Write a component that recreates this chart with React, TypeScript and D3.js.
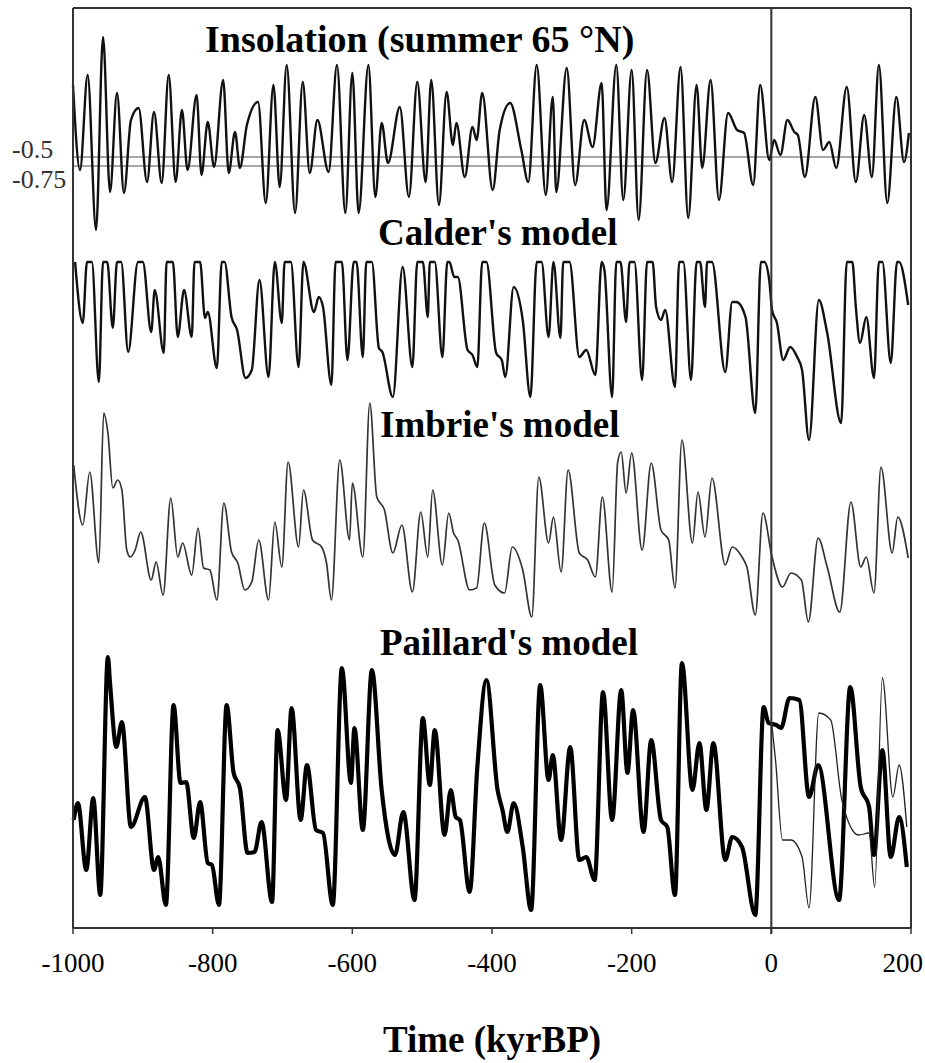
import React from "react";
import * as d3 from "d3";

// x: time in kyr (negative = past, positive = future), y: arbitrary model units
const xTicks = [-1000, -800, -600, -400, -200, 0, 200];

const insolation: [number, number][] = [
  [-1000,150],[-990,65],[-979,160],[-967,5],[-957,198],[-947,43],[-937,142],[-927,42],[-917,115],[-906,127],
  [-894,53],[-884,123],[-873,52],[-863,160],[-853,53],[-844,125],[-836,65],[-823,140],[-816,60],[-807,113],
  [-798,68],[-785,155],[-777,62],[-768,103],[-761,67],[-751,110],[-735,133],[-724,32],[-713,150],[-704,48],
  [-694,170],[-682,22],[-671,153],[-661,62],[-650,115],[-634,63],[-622,170],[-610,22],[-600,162],[-591,22],
  [-577,170],[-567,38],[-558,112],[-549,72],[-532,128],[-519,38],[-507,153],[-495,53],[-487,155],[-476,30],
  [-465,143],[-456,90],[-451,112],[-439,58],[-428,108],[-422,95],[-414,142],[-399,45],[-389,105],[-374,132],
  [-358,85],[-348,53],[-336,170],[-323,40],[-313,138],[-308,43],[-293,167],[-281,50],[-268,115],[-256,88],
  [-243,152],[-236,25],[-222,170],[-212,35],[-200,165],[-190,15],[-178,165],[-166,72],[-153,117],[-142,53],
  [-130,168],[-119,17],[-107,150],[-99,67],[-87,155],[-75,35],[-62,122],[-49,105],[-39,102],[-26,50],
  [-16,150],[-3,75],[4,95],[13,80],[23,115],[33,103],[38,100],[48,58],[63,138],[74,85],
  [83,93],[93,67],[108,148],[121,53],[133,120],[144,58],[154,170],[166,32],[179,138],[190,73],[197,102],
];

const calder: [number, number][] = [
  [-997,188],[-986,127],[-980,188],[-973,188],[-963,68],[-957,188],[-951,188],[-943,122],[-937,188],[-931,188],
  [-921,98],[-907,188],[-900,188],[-888,118],[-883,160],[-870,97],[-866,188],[-857,188],[-850,113],[-841,160],
  [-830,113],[-826,188],[-818,188],[-811,132],[-807,138],[-794,82],[-787,188],[-783,188],[-773,133],[-765,120],
  [-753,72],[-744,80],[-733,170],[-720,73],[-711,188],[-701,127],[-697,188],[-688,188],[-677,83],[-670,188],
  [-655,138],[-648,153],[-642,143],[-630,65],[-624,188],[-615,188],[-607,90],[-598,188],[-594,188],[-585,93],
  [-580,188],[-572,188],[-562,102],[-557,98],[-542,53],[-528,183],[-514,83],[-507,188],[-499,188],[-492,133],
  [-489,188],[-482,188],[-471,93],[-464,188],[-461,188],[-454,173],[-449,173],[-435,100],[-428,95],[-421,83],
  [-414,188],[-408,188],[-394,97],[-386,90],[-381,73],[-369,163],[-356,130],[-345,53],[-336,188],[-329,188],
  [-319,113],[-312,188],[-302,112],[-298,188],[-289,188],[-275,93],[-265,100],[-252,75],[-243,188],[-239,180],
  [-228,53],[-222,188],[-216,188],[-208,128],[-203,188],[-196,188],[-185,70],[-178,188],[-170,188],[-165,143],
  [-158,130],[-152,140],[-138,63],[-132,188],[-126,188],[-115,70],[-107,188],[-102,188],[-95,143],[-92,188],
  [-85,188],[-66,78],[-56,148],[-50,148],[-37,133],[-23,37],[-15,188],[-10,188],[-3,170],[1,140],
  [8,127],[17,90],[27,103],[37,93],[44,80],[54,10],[68,150],[80,117],[100,27],[108,188],
  [116,188],[121,143],[127,107],[136,133],[147,72],[154,188],[159,188],[171,87],[180,188],[183,188],[196,145],
];

const imbrie: [number, number][] = [
  [-999,175],[-986,115],[-976,168],[-963,77],[-956,227],[-950,207],[-943,152],[-936,160],[-930,150],[-923,90],
  [-918,83],[-911,90],[-903,108],[-888,60],[-881,78],[-871,45],[-860,142],[-850,83],[-843,97],[-830,65],
  [-821,112],[-813,72],[-804,70],[-794,40],[-784,137],[-773,88],[-764,77],[-754,50],[-744,58],[-734,100],
  [-720,40],[-711,118],[-701,73],[-692,178],[-677,93],[-670,150],[-657,100],[-644,93],[-637,77],[-630,40],
  [-618,180],[-604,100],[-600,157],[-585,83],[-575,237],[-565,143],[-554,130],[-542,87],[-529,115],[-514,48],
  [-502,128],[-492,83],[-485,150],[-471,75],[-462,127],[-455,107],[-449,100],[-432,50],[-422,52],[-411,117],
  [-396,55],[-382,47],[-371,93],[-356,70],[-343,23],[-333,163],[-319,97],[-312,123],[-301,68],[-291,170],
  [-275,87],[-263,80],[-252,63],[-242,143],[-228,48],[-220,178],[-215,188],[-208,147],[-200,187],[-185,90],
  [-172,177],[-158,110],[-147,100],[-138,52],[-128,200],[-113,97],[-105,148],[-95,103],[-85,162],[-66,75],
  [-56,93],[-42,83],[-35,73],[-23,25],[-12,127],[1,83],[16,53],[28,67],[43,60],[53,18],
  [67,102],[80,73],[98,28],[114,138],[128,73],[136,83],[147,47],[157,173],[173,87],[181,123],[196,82],
];

const paillard: [number, number][] = [
  [-999,110],[-993,127],[-981,60],[-971,132],[-961,35],[-950,273],[-947,247],[-938,183],[-930,208],[-917,103],
  [-897,133],[-884,60],[-878,73],[-867,25],[-856,225],[-846,147],[-838,148],[-827,92],[-818,128],[-807,67],
  [-801,65],[-791,25],[-780,225],[-770,157],[-761,142],[-750,77],[-740,78],[-730,108],[-715,28],[-707,200],
  [-695,130],[-687,222],[-674,110],[-665,165],[-652,100],[-642,97],[-628,25],[-615,262],[-602,147],[-597,202],
  [-585,100],[-572,260],[-558,140],[-539,75],[-527,118],[-511,30],[-499,212],[-489,145],[-482,200],[-468,95],
  [-459,140],[-452,113],[-446,110],[-432,38],[-421,163],[-408,250],[-392,140],[-385,120],[-378,98],[-369,127],
  [-356,83],[-344,20],[-331,245],[-319,150],[-313,175],[-301,90],[-288,183],[-275,70],[-265,73],[-253,50],
  [-241,238],[-228,110],[-215,240],[-206,157],[-198,220],[-183,98],[-172,190],[-158,110],[-149,103],[-138,35],
  [-128,267],[-113,140],[-103,187],[-93,120],[-83,187],[-66,70],[-56,93],[-42,83],[-23,15],[-11,223],
  [-4,207],[7,205],[14,202],[26,232],[40,230],[54,133],[67,165],[97,30],[113,243],[128,143],
  [140,123],[147,75],[159,180],[171,73],[183,113],[194,63],
];

const paillardAlt: [number, number][] = [
  [0,210],[6,170],[16,90],[28,90],[44,73],[54,22],[68,217],[85,210],[101,130],[125,95],
  [140,97],[148,43],[159,252],[174,133],[183,165],[194,103],
];

const refLevels = [
  { label: "-0.5", v: 78, dy: 1, extent: 200 },
  { label: "-0.75", v: 69, dy: 22, extent: -160 },
];

const panels = [
  { name: "Insolation (summer 65 °N)", data: insolation, domain: [0, 200], range: [235, 35], width: 2.4, color: "#111", titleX: 205, titleY: 52, size: 38 },
  { name: "Calder's model", data: calder, domain: [0, 200], range: [450, 250], width: 2.4, color: "#111", titleX: 378, titleY: 245, size: 37 },
  { name: "Imbrie's model", data: imbrie, domain: [0, 250], range: [640, 390], width: 1.7, color: "#333", titleX: 380, titleY: 437, size: 37 },
  { name: "Paillard's model", data: paillard, domain: [0, 300], range: [930, 630], width: 4.2, color: "#000", titleX: 380, titleY: 655, size: 37 },
];

export default function App() {
  const W = 925, H = 1063;
  const left = 73, right = 911, top = 8, bottom = 928;
  const x = d3.scaleLinear().domain([-1000, 200]).range([left, right]);
  const serif = "'Liberation Serif', 'Times New Roman', serif";

  const ins = panels[0];
  const yIns = d3.scaleLinear().domain(ins.domain).range(ins.range);

  return (
    <svg width={W} height={H} style={{ position: "absolute", left: 0, top: 0, background: "#fff" }}>
      <rect x={0} y={0} width={W} height={H} fill="#fff" />
      {/* reference lines */}
      {refLevels.map((r) => (
        <g key={r.label}>
          <line x1={left} x2={r.extent > 0 ? right : x(r.extent)} y1={yIns(r.v)} y2={yIns(r.v)} stroke="#8a8a8a" strokeWidth={1.3} />
          <text x={12} y={yIns(r.v) + r.dy} textAnchor="start" fontFamily={serif} fontSize={26} fill="#333">{r.label}</text>
        </g>
      ))}
      {panels.map((p) => {
        const y = d3.scaleLinear().domain(p.domain).range(p.range);
        const line = d3.line<[number, number]>().x((d) => x(d[0])).y((d) => y(d[1])).curve(d3.curveMonotoneX);
        return (
          <g key={p.name}>
            <path d={line(p.data) || ""} fill="none" stroke={p.color} strokeWidth={p.width} strokeLinejoin="round" />
            {p.name === "Paillard's model" && (
              <path d={line(paillardAlt) || ""} fill="none" stroke="#222" strokeWidth={1.3} strokeLinejoin="round" />
            )}
            <text x={p.titleX} y={p.titleY} fontFamily={serif} fontWeight="bold" fontSize={p.size} fill="#000">{p.name}</text>
          </g>
        );
      })}
      {/* frame */}
      <line x1={left} x2={left} y1={top} y2={bottom} stroke="#333" strokeWidth={2} />
      <line x1={right} x2={right} y1={top} y2={bottom} stroke="#333" strokeWidth={2} />
      <line x1={left} x2={right} y1={top} y2={top} stroke="#333" strokeWidth={2} />
      <line x1={x(0)} x2={x(0)} y1={top} y2={bottom + 6} stroke="#333" strokeWidth={2} />
      <line x1={left} x2={right} y1={bottom} y2={bottom} stroke="#333" strokeWidth={2} />
      {xTicks.map((t, i) => (
        <g key={t}>
          <line x1={x(t)} x2={x(t)} y1={bottom} y2={bottom + 6} stroke="#333" strokeWidth={1.5} />
          <text x={i === xTicks.length - 1 ? W - 2 : x(t)} y={972} textAnchor={i === xTicks.length - 1 ? "end" : "middle"} fontFamily={serif} fontSize={27} fill="#000">{t}</text>
        </g>
      ))}
      <text x={(left + right) / 2} y={1052} textAnchor="middle" fontFamily={serif} fontWeight="bold" fontSize={37} fill="#000">Time (kyrBP)</text>
    </svg>
  );
}
